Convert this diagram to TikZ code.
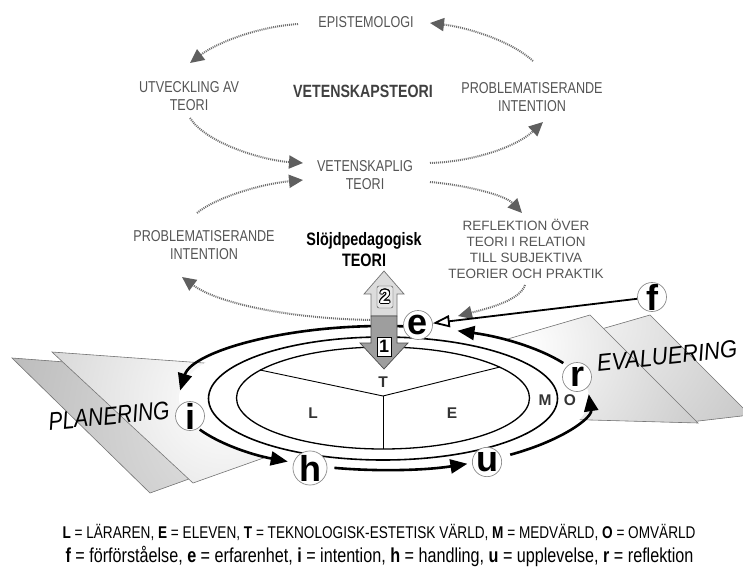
\documentclass[tikz,border=0pt]{standalone}
\usepackage{fontspec}
\setmainfont{Liberation Sans}
\newfontfamily\narrowfont{Liberation Sans}[FakeStretch=0.8]
\usepackage{contour}
\contourlength{0.8pt}
\usetikzlibrary{arrows.meta,calc}
\definecolor{labelgray}{RGB}{85,85,85}
\definecolor{dotgray}{RGB}{112,112,112}
\definecolor{headgray}{RGB}{95,95,95}
\definecolor{planeedge}{RGB}{120,120,120}
\definecolor{liftlight}{RGB}{220,220,220}
\definecolor{liftdark}{RGB}{158,158,158}

\begin{document}
\begin{tikzpicture}[x=1pt,y=-1pt,
  lbl/.style={text=labelgray, font=\narrowfont\fontsize{15.75}{18}\selectfont, align=center, inner sep=0pt},
  dotarrow/.style={draw=dotgray, line width=2pt, dash pattern=on 1pt off 1pt,
    -{Triangle[length=14pt,width=13pt,color=headgray]}},
  looparrow/.style={line width=2.6pt, -{Triangle[length=17pt,width=14pt]}},
  station/.style={circle, draw=black!45, line width=0.7pt, fill=white, minimum size=29pt,
    inner sep=0pt, font=\bfseries\fontsize{36}{36}\selectfont},
  sector/.style={text=black!80, font=\bfseries\fontsize{15.5}{16}\selectfont, inner sep=0pt},
  plane/.style={draw=planeedge, line width=0.6pt},
  phase/.style={font=\itshape\fontsize{21}{22}\selectfont, inner sep=0pt},
  legend/.style={font=\narrowfont, anchor=base, inner sep=0pt},
]
\useasboundingbox (0,0) rectangle (743,572);
\clip (0,0) rectangle (743,572);
\fill[white] (0,0) rectangle (743,572);

% ---- planes: planning (left) and evaluation (right) ----
% (a radial shading reaches its outer colour at half the circle's radius)
\path[plane, fill=black!40, path picture={
    \shade[inner color=black!10, outer color=black!40] (240,420) circle (440);}]
  (12,358) -- (250,376) -- (250,457) -- (150,493) -- cycle;
\path[plane, fill=black!30, path picture={
    \shade[inner color=white, outer color=black!30] (225,400) circle (360);}]
  (52,352) -- (300,370) -- (300,445) -- (193,483) -- cycle;
\path[plane, fill=black!34, path picture={
    \shade[inner color=black!6, outer color=black!34] (600,325) circle (320);}]
  (560,341) -- (650,315) -- (750,415) -- (690,422) -- (620,418) -- cycle;
\path[plane, fill=black!40, path picture={
    \shade[inner color=white, outer color=black!40] (525,345) circle (380);}]
  (470,350) -- (590,315) -- (698,423) -- (520,418) -- cycle;

% ---- the world rings ----
\coordinate (C) at (384,398);
\fill[white] (C) ellipse [x radius=205, y radius=72];
\draw[line width=1.6pt, fill=white] (383,398.5) ellipse [x radius=174.5, y radius=61.5];
\draw[line width=1.3pt, fill=white] (383,398) ellipse [x radius=146.5, y radius=51];

% sectors of the inner ellipse
\coordinate (mid) at (383,396);
\coordinate (secL) at (260,370);
\coordinate (secR) at (500,367);
\coordinate (secB) at (383,449);
\draw[line width=0.9pt] (secL) -- (mid) -- (secR);
\draw[line width=0.9pt] (mid) -- (secB);

\node[sector] (nT) at (383,382) {T};
\node[sector] (nL) at (313,413) {L};
\node[sector] (nE) at (452,413) {E};
\node[sector] (nM) at (545,400) {M};
\node[sector] (nO) at (570,400) {O};

% ---- the learning cycle e -> i -> h -> u -> r -> e ----
\coordinate (eOut) at ($(C)+({205*cos(276)},{72*sin(276)})$);
\coordinate (iOut) at ($(C)+({205*cos(154)},{72*sin(154)})$);
\coordinate (hOut) at ($(C)+({205*cos(104)},{72*sin(104)})$);
\coordinate (uOut) at ($(C)+({205*cos(52)},{72*sin(52)})$);
\coordinate (rOut) at ($(C)+({205*cos(-29)},{72*sin(-29)})$);
\draw[looparrow] (eOut) arc [start angle=276, end angle=186, x radius=205, y radius=72];
\draw[looparrow] (iOut) arc [start angle=154, end angle=118, x radius=205, y radius=72];
\draw[looparrow] (hOut) arc [start angle=104, end angle=66, x radius=205, y radius=72];
\draw[looparrow] (uOut) arc [start angle=52, end angle=-3, x radius=205, y radius=72];
\draw[looparrow] (rOut) arc [start angle=-29, end angle=-69, x radius=205, y radius=72];

% ---- theory labels ----
\node[lbl] (epi) at (366,22) {EPISTEMOLOGI};
\node[lbl] (utv) at (189,96) {UTVECKLING AV\\TEORI};
\node[lbl, text=black!75, font=\narrowfont\bfseries\fontsize{17.75}{20}\selectfont] (vst) at (363,91) {VETENSKAPSTEORI};
\node[lbl] (probR) at (532,97) {PROBLEMATISERANDE\\INTENTION};
\node[lbl] (vet) at (365,175) {VETENSKAPLIG\\TEORI};
\node[lbl] (probL) at (204,245.5) {PROBLEMATISERANDE\\INTENTION};
\node[lbl, text=black, font=\narrowfont\bfseries\fontsize{18}{21}\selectfont] (slojd) at (364,250) {Slöjdpedagogisk\\TEORI};
\node[lbl, font=\fontsize{13.5}{16.2}\selectfont] (refl) at (526,249) {REFLEKTION ÖVER\\TEORI I RELATION\\TILL SUBJEKTIVA\\TEORIER OCH PRAKTIK};

% ---- dotted theory arrows ----
\coordinate (d1a) at (298,24);  \coordinate (d1b) at (190,63);
\coordinate (d2a) at (533,61);  \coordinate (d2b) at (430,23);
\coordinate (d3a) at (190,118); \coordinate (d3b) at (303,163);
\coordinate (d4a) at (430,163); \coordinate (d4b) at (543,122);
\coordinate (d5a) at (197,213); \coordinate (d5b) at (303,180);
\coordinate (d6a) at (430,182); \coordinate (d6b) at (522,213);
\coordinate (d7a) at (380,320); \coordinate (d7b) at (182,277);
\coordinate (d8a) at (525,285); \coordinate (d8b) at (458,316);
\draw[dotarrow] (d1a) .. controls (255,27) and (215,44) .. (d1b);
\draw[dotarrow] (d2a) .. controls (510,40) and (465,27) .. (d2b);
\draw[dotarrow] (d3a) .. controls (205,142) and (260,160) .. (d3b);
\draw[dotarrow] (d4a) .. controls (470,162) and (515,148) .. (d4b);
\draw[dotarrow] (d5a) .. controls (215,198) and (260,184) .. (d5b);
\draw[dotarrow] (d6a) .. controls (465,185) and (505,195) .. (d6b);
\draw[dotarrow] (d7a) .. controls (300,320) and (220,305) .. (d7b);
\draw[dotarrow] (d8a) .. controls (520,300) and (490,308) .. (d8b);

% ---- practice / theory arrows ----
\draw[fill=liftlight, draw=black!55, line width=0.7pt]
  (371,316) -- (371,294) -- (364,294) -- (384,271) -- (404,294) -- (397,294) -- (397,316) -- cycle;
\draw[fill=liftdark, draw=black!70, line width=0.7pt]
  (371,316) -- (397,316) -- (397,343) -- (408,343) -- (384,369) -- (360,343) -- (371,343) -- cycle;
\node[draw=black!75, fill=black!10, rounded corners=2pt, minimum width=16pt, minimum height=22pt,
  inner sep=0pt, font=\bfseries\fontsize{19}{19}\selectfont] (two) at (385,297)
  {{\color{white}\contour{black}{2}}};
\node[draw=black, fill=white, minimum width=14pt, minimum height=19pt,
  inner sep=0pt, font=\bfseries\fontsize{18}{18}\selectfont] (one) at (384,346.5) {1};

% ---- stations ----
\node[station] (e) at (418,325) {e};
\node[station] (i) at (190,416) {i};
\node[station] (h) at (310,468) {h};
\node[station] (u) at (487,462) {u};
\node[station] (r) at (577,377) {r};
\node[station] (f) at (652,297) {f};
\draw[line width=1.8pt, -{Triangle[length=17pt,width=12pt,fill=white]}] (f) -- (e);

% ---- phases ----
\node[phase, rotate=5.5] (plan) at (109,416) {\scalebox{1}[1.2]{PLANERING}};
\node[phase, rotate=6, font=\itshape\fontsize{22}{23}\selectfont] (eval) at (667,356) {\scalebox{1}[1.1]{EVALUERING}};

% ---- key ----
\node[legend, font=\narrowfont\fontsize{17}{18}\selectfont] (keyA) at (379,538.5)
  {\textbf{L} = LÄRAREN, \textbf{E} = ELEVEN, \textbf{T} = TEKNOLOGISK-ESTETISK VÄRLD, \textbf{M} = MEDVÄRLD, \textbf{O} = OMVÄRLD};
\node[legend, font=\narrowfont\fontsize{20.2}{22}\selectfont] (keyB) at (379.5,562)
  {\textbf{f} = förförståelse, \textbf{e} = erfarenhet, \textbf{i} = intention, \textbf{h} = handling, \textbf{u} = upplevelse, \textbf{r} = reflektion};
\end{tikzpicture}
\end{document}
